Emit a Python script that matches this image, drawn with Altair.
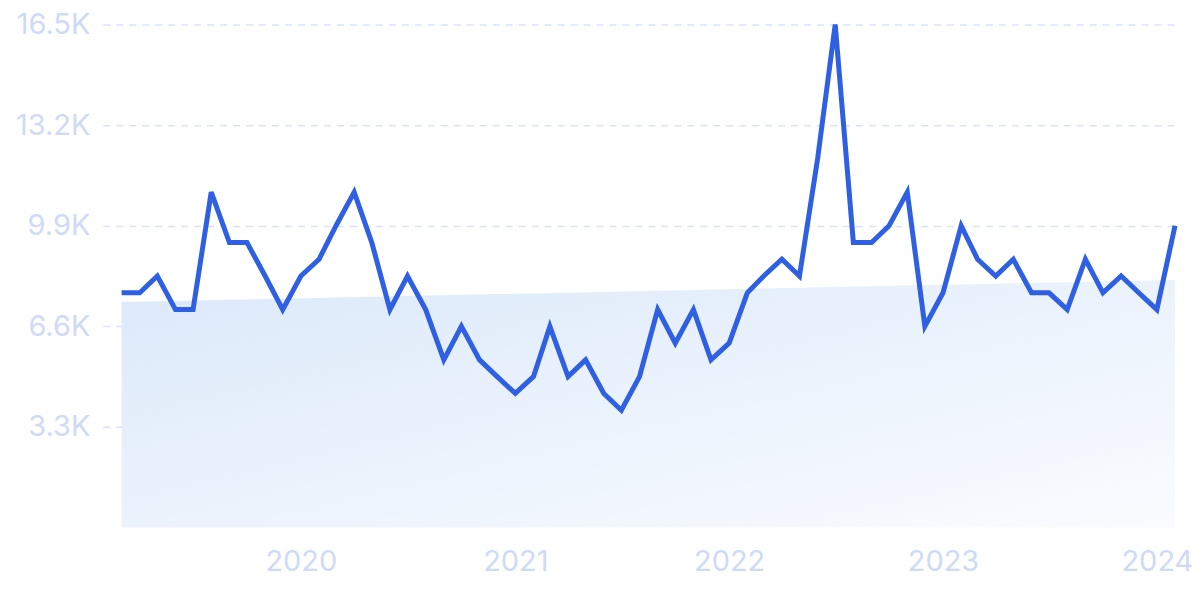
import altair as alt
import pandas as pd

# Monthly values, Mar 2019 .. Feb 2024
start_month = "2019-03-01"
values = [
    7700, 7700, 8250, 7150, 7150, 11000, 9350, 9350, 8250, 7150,
    8250, 8800, 9900, 11000, 9350, 7150, 8250, 7150, 5500, 6600,
    5500, 4950, 4400, 4950, 6600, 4950, 5500, 4400, 3850, 4950,
    7150, 6050, 7150, 5500, 6050, 7700, 8250, 8800, 8250, 12100,
    16500, 9350, 9350, 9900, 11000, 6600, 7700, 9900, 8800, 8250,
    8800, 7700, 7700, 7150, 8800, 7700, 8250, 7700, 7150, 9900,
]
trend_dates = ["2019-03-01", "2024-02-01"]
trend_values = [7400, 8120]
y_ticks = [3300, 6600, 9900, 13200, 16500]

months = pd.date_range(start_month, periods=len(values), freq="MS")
df = pd.DataFrame({"date": months.strftime("%Y-%m-%d"), "value": values})
trend = pd.DataFrame({"date": trend_dates, "value": trend_values})

x_scale = alt.Scale(domain=[alt.DateTime(year=2019, month=1, date=28),
                            alt.DateTime(year=2024, month=2, date=1)])
y_scale = alt.Scale(domain=[0, 16500], nice=False, zero=True)

x_enc = alt.X("date:T", scale=x_scale,
              axis=alt.Axis(format="%Y", tickCount="year", grid=False, domain=False,
                            ticks=False, labelPadding=20, title=None))
y_axis = alt.Axis(values=y_ticks, labelExpr="format(datum.value/1000, '.1f') + 'K'",
                  grid=True, gridDash=[7, 6], gridColor="#d9e4fb", gridWidth=1.5,
                  domain=False, ticks=False, labelPadding=13, title=None)

area = alt.Chart(trend).mark_area(
    fill=alt.Gradient(gradient="linear", x1=0, y1=0, x2=1, y2=1,
                      stops=[alt.GradientStop(offset=0, color="#dce9fa"),
                             alt.GradientStop(offset=1, color="#fafcff")]),
    opacity=1,
).encode(
    x=alt.X("date:T", scale=x_scale),
    y=alt.Y("value:Q", scale=y_scale),
)

line = alt.Chart(df).mark_line(color="#2f5fe3", strokeWidth=5).encode(
    x=x_enc,
    y=alt.Y("value:Q", scale=y_scale, axis=y_axis),
)

chart = alt.layer(area, line).properties(
    width=1074, height=504,
    autosize=alt.AutoSizeParams(type="none"),
    padding={"left": 95, "top": 16, "right": 17, "bottom": 60},
).configure_view(stroke=None).configure_axis(
    labelFont="Inter", labelFontSize=29, labelColor="#cfdaf5",
)

chart.save("out.html", embed_options={"renderer": "svg", "actions": False})
